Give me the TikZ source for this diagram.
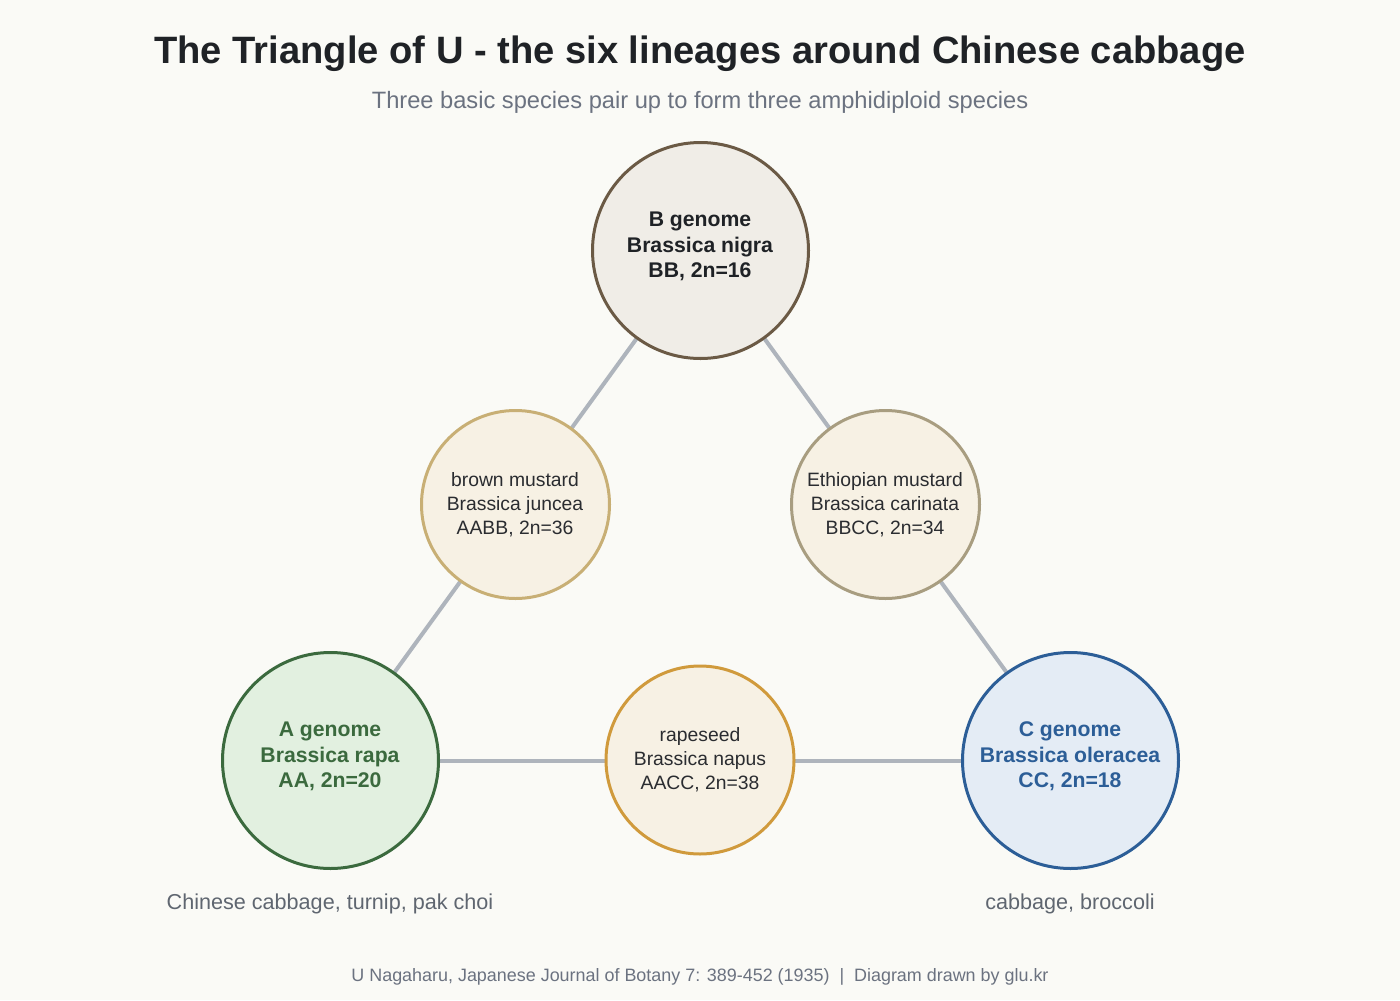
\documentclass[tikz,border=0pt]{standalone}
\usepackage{fontspec}
\setmainfont{Liberation Sans}
\usetikzlibrary{backgrounds}
\definecolor{bgc}{HTML}{FAFAF6}
\definecolor{linec}{HTML}{AEB4BC}
\definecolor{Bstroke}{HTML}{6B5A45}
\definecolor{Bfill}{HTML}{F0EDE7}
\definecolor{darktext}{HTML}{1F2226}
\definecolor{Astroke}{HTML}{3B6A3E}
\definecolor{Afill}{HTML}{E2F0E0}
\definecolor{Cstroke}{HTML}{2C5E97}
\definecolor{Cfill}{HTML}{E4ECF5}
\definecolor{hybfill}{HTML}{F7F1E4}
\definecolor{BMstroke}{HTML}{C8AF75}
\definecolor{EMstroke}{HTML}{A89D80}
\definecolor{RSstroke}{HTML}{D09A3C}
\definecolor{smalltext}{HTML}{2A2C30}
\definecolor{subc}{HTML}{6B7280}
\definecolor{capc}{HTML}{5F6670}
\tikzset{
  bigc/.style={circle,draw,line width=2.25pt,minimum size=162pt,inner sep=0pt},
  smallc/.style={circle,draw,line width=2.25pt,minimum size=141pt,inner sep=0pt,fill=hybfill},
  bigt/.style={anchor=base,inner sep=0pt,font=\fontsize{15.9pt}{18pt}\selectfont\bfseries},
  smallt/.style={anchor=base,inner sep=0pt,font=\fontsize{14.5pt}{17pt}\selectfont,text=smalltext},
  conn/.style={draw=linec,line width=3pt},
  captxt/.style={anchor=base,inner sep=0pt,font=\fontsize{16.2pt}{19pt}\selectfont,text=capc},
}
\begin{document}
\begin{tikzpicture}[x=0.75pt,y=-0.75pt]
\useasboundingbox (0,0) rectangle (1400,1000);
% title
\node[anchor=base,inner sep=0pt,font=\fontsize{28.6pt}{32pt}\selectfont\bfseries,text=darktext] (title) at (700,63) {The Triangle of U - the six lineages around Chinese cabbage};
\node[anchor=base,inner sep=0pt,font=\fontsize{17.75pt}{21pt}\selectfont,text=subc] (sub) at (700,108) {Three basic species pair up to form three amphidiploid species};
% circles
\node[bigc,draw=Bstroke,fill=Bfill] (B) at (700.5,250.5) {};
\node[bigc,draw=Astroke,fill=Afill] (A) at (330.5,760.5) {};
\node[bigc,draw=Cstroke,fill=Cfill] (C) at (1070.5,760.5) {};
\node[smallc,draw=BMstroke] (BM) at (515.5,504.5) {};
\node[smallc,draw=EMstroke] (EM) at (885.5,504.5) {};
\node[smallc,draw=RSstroke] (RS) at (700,760) {};
% texts
\node[bigt,text=darktext] (B1) at (700,226) {B genome};
\node[bigt,text=darktext] (B2) at (700,252) {Brassica nigra};
\node[bigt,text=darktext] (B3) at (700,277.5) {BB, 2n=16};
\node[bigt,text=Astroke] (A1) at (330,736) {A genome};
\node[bigt,text=Astroke] (A2) at (330,762) {Brassica rapa};
\node[bigt,text=Astroke] (A3) at (330,787.5) {AA, 2n=20};
\node[bigt,text=Cstroke] (C1) at (1070,736) {C genome};
\node[bigt,text=Cstroke] (C2) at (1070,762) {Brassica oleracea};
\node[bigt,text=Cstroke] (C3) at (1070,787.5) {CC, 2n=18};
\node[smallt] (BM1) at (515,486.5) {brown mustard};
\node[smallt] (BM2) at (515,510.5) {Brassica juncea};
\node[smallt] (BM3) at (515,534.5) {AABB, 2n=36};
\node[smallt] (EM1) at (885,486.5) {Ethiopian mustard};
\node[smallt] (EM2) at (885,510.5) {Brassica carinata};
\node[smallt] (EM3) at (885,534.5) {BBCC, 2n=34};
\node[smallt] (RS1) at (700,741.5) {rapeseed};
\node[smallt] (RS2) at (700,765.5) {Brassica napus};
\node[smallt] (RS3) at (700,789.5) {AACC, 2n=38};
% captions
\node[captxt] (capA) at (330,909.5) {Chinese cabbage, turnip, pak choi};
\node[captxt] (capC) at (1070,909.5) {cabbage, broccoli};
\node[anchor=base,inner sep=0pt,font=\fontsize{13.45pt}{16pt}\selectfont,text=subc] (foot) at (700,981.5) {U Nagaharu, Japanese Journal of Botany 7: 389-452 (1935) \ | \ Diagram drawn by glu.kr};
% connectors behind
\begin{scope}[on background layer]
\fill[bgc] (0,0) rectangle (1400,1000);
\draw[conn] (A.center) -- (B.center);
\draw[conn] (B.center) -- (C.center);
\draw[conn] (A.center) -- (C.center);
\end{scope}
\end{tikzpicture}
\end{document}
